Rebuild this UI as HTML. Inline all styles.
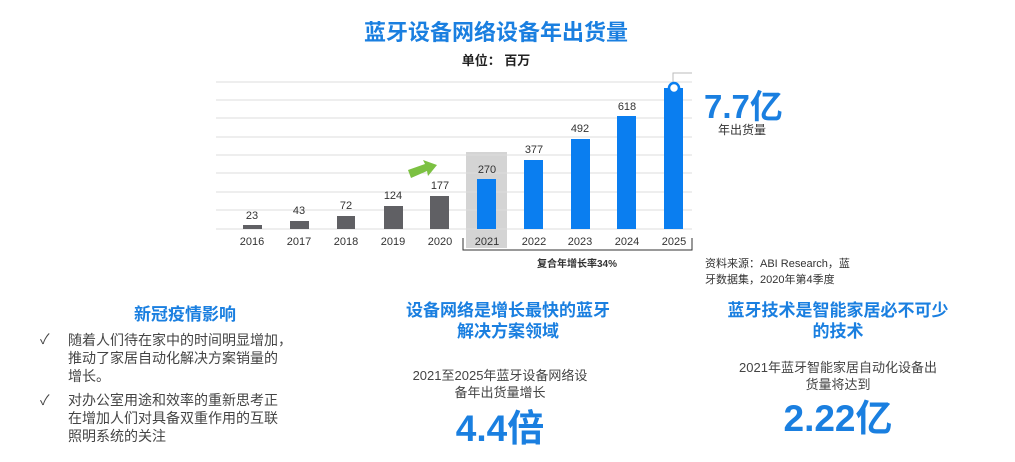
<!DOCTYPE html>
<html><head><meta charset="utf-8"><style>
body{margin:0;width:1015px;height:462px;background:#fff;position:relative;overflow:hidden;font-family:"Liberation Sans","Noto Sans CJK SC",sans-serif;}
.a{position:absolute;white-space:nowrap;}
.b{color:#1a7fe0;font-weight:bold;}
.c{text-align:center;transform:translateX(-50%);}
.g{color:#444;}
</style></head><body>
<div class="a b c" style="left:496px;top:15px;font-size:22px;">蓝牙设备网络设备年出货量</div>
<div class="a c" style="left:496px;top:50px;font-size:13px;font-weight:bold;color:#222;">单位： 百万</div>
<svg class="a" style="left:0;top:0" width="1015" height="300" font-family="Liberation Sans,sans-serif">
<rect x="466" y="152" width="41" height="96" fill="#d4d4d4"/>
<g stroke="#dcdcdc" stroke-width="1">
<line x1="216" x2="692" y1="82" y2="82"/><line x1="216" x2="692" y1="100" y2="100"/><line x1="216" x2="692" y1="118" y2="118"/><line x1="216" x2="692" y1="137" y2="137"/><line x1="216" x2="692" y1="155" y2="155"/><line x1="216" x2="692" y1="173" y2="173"/><line x1="216" x2="692" y1="192" y2="192"/><line x1="216" x2="692" y1="210" y2="210"/><line x1="216" x2="692" y1="229" y2="229"/>
</g>
<g fill="#606064">
<rect x="243" y="225" width="19" height="4"/><rect x="290" y="221" width="19" height="8"/><rect x="337" y="216" width="18" height="13"/><rect x="384" y="206" width="19" height="23"/><rect x="430" y="196" width="19" height="33"/>
</g>
<g fill="#0a7ef0">
<rect x="477" y="179" width="19" height="50"/><rect x="524" y="160" width="19" height="69"/><rect x="571" y="139" width="19" height="90"/><rect x="617" y="116" width="19" height="113"/><rect x="664" y="88" width="19" height="141"/>
</g>
<polyline points="673,84 673,73 692,73" fill="none" stroke="#bbb" stroke-width="1"/>
<circle cx="674" cy="88" r="5" fill="#fff" stroke="#0a7ef0" stroke-width="2.5"/>
<polygon points="408,170 425,164 423,160 437,165 428,176 427,171 411,178" fill="#7cc142"/>
<g font-size="11" fill="#333" text-anchor="middle">
<text x="252" y="219">23</text><text x="299" y="214">43</text><text x="346" y="209">72</text><text x="393" y="199">124</text><text x="440" y="189">177</text><text x="487" y="173">270</text><text x="534" y="153">377</text><text x="580" y="132">492</text><text x="627" y="110">618</text>
<text x="252" y="245">2016</text><text x="299" y="245">2017</text><text x="346" y="245">2018</text><text x="393" y="245">2019</text><text x="440" y="245">2020</text><text x="487" y="245">2021</text><text x="534" y="245">2022</text><text x="580" y="245">2023</text><text x="627" y="245">2024</text><text x="674" y="245">2025</text>
</g>
<polyline points="463,238 463,250 692,250 692,238" fill="none" stroke="#333" stroke-width="1"/>
<text x="577" y="267" font-size="10" font-weight="bold" fill="#333" text-anchor="middle" font-family="Liberation Sans,Noto Sans CJK SC,sans-serif">复合年增长率34%</text>
</svg>
<div class="a b" style="left:704px;top:80px;font-size:33px;">7.7亿</div>
<div class="a" style="left:718px;top:121px;font-size:12px;color:#333;">年出货量</div>
<div class="a" style="left:705px;top:256px;font-size:11px;color:#333;line-height:16px;">资料来源：ABI Research，蓝<br>牙数据集，2020年第4季度</div>

<div class="a b c" style="left:185px;top:300px;font-size:17px;">新冠疫情影响</div>
<div class="a g" style="left:40px;top:330px;font-size:14px;line-height:18px;">✓</div>
<div class="a g" style="left:68px;top:331px;font-size:14px;line-height:18px;">随着人们待在家中的时间明显增加，<br>推动了家居自动化解决方案销量的<br>增长。</div>
<div class="a g" style="left:40px;top:391px;font-size:14px;line-height:18px;">✓</div>
<div class="a g" style="left:68px;top:391px;font-size:14px;line-height:18px;">对办公室用途和效率的重新思考正<br>在增加人们对具备双重作用的互联<br>照明系统的关注</div>

<div class="a b c" style="left:508px;top:300px;font-size:17px;line-height:21px;text-align:center;">设备网络是增长最快的蓝牙<br>解决方案领域</div>
<div class="a g c" style="left:500px;top:367px;font-size:13px;line-height:17px;text-align:center;">2021至2025年蓝牙设备网络设<br>备年出货量增长</div>
<div class="a b c" style="left:500px;top:398px;font-size:37px;">4.4倍</div>

<div class="a b c" style="left:838px;top:300px;font-size:17px;line-height:21px;text-align:center;">蓝牙技术是智能家居必不可少<br>的技术</div>
<div class="a g c" style="left:838px;top:359px;font-size:13px;line-height:17px;text-align:center;">2021年蓝牙智能家居自动化设备出<br>货量将达到</div>
<div class="a b c" style="left:838px;top:388px;font-size:37px;">2.22亿</div>
</body></html>
